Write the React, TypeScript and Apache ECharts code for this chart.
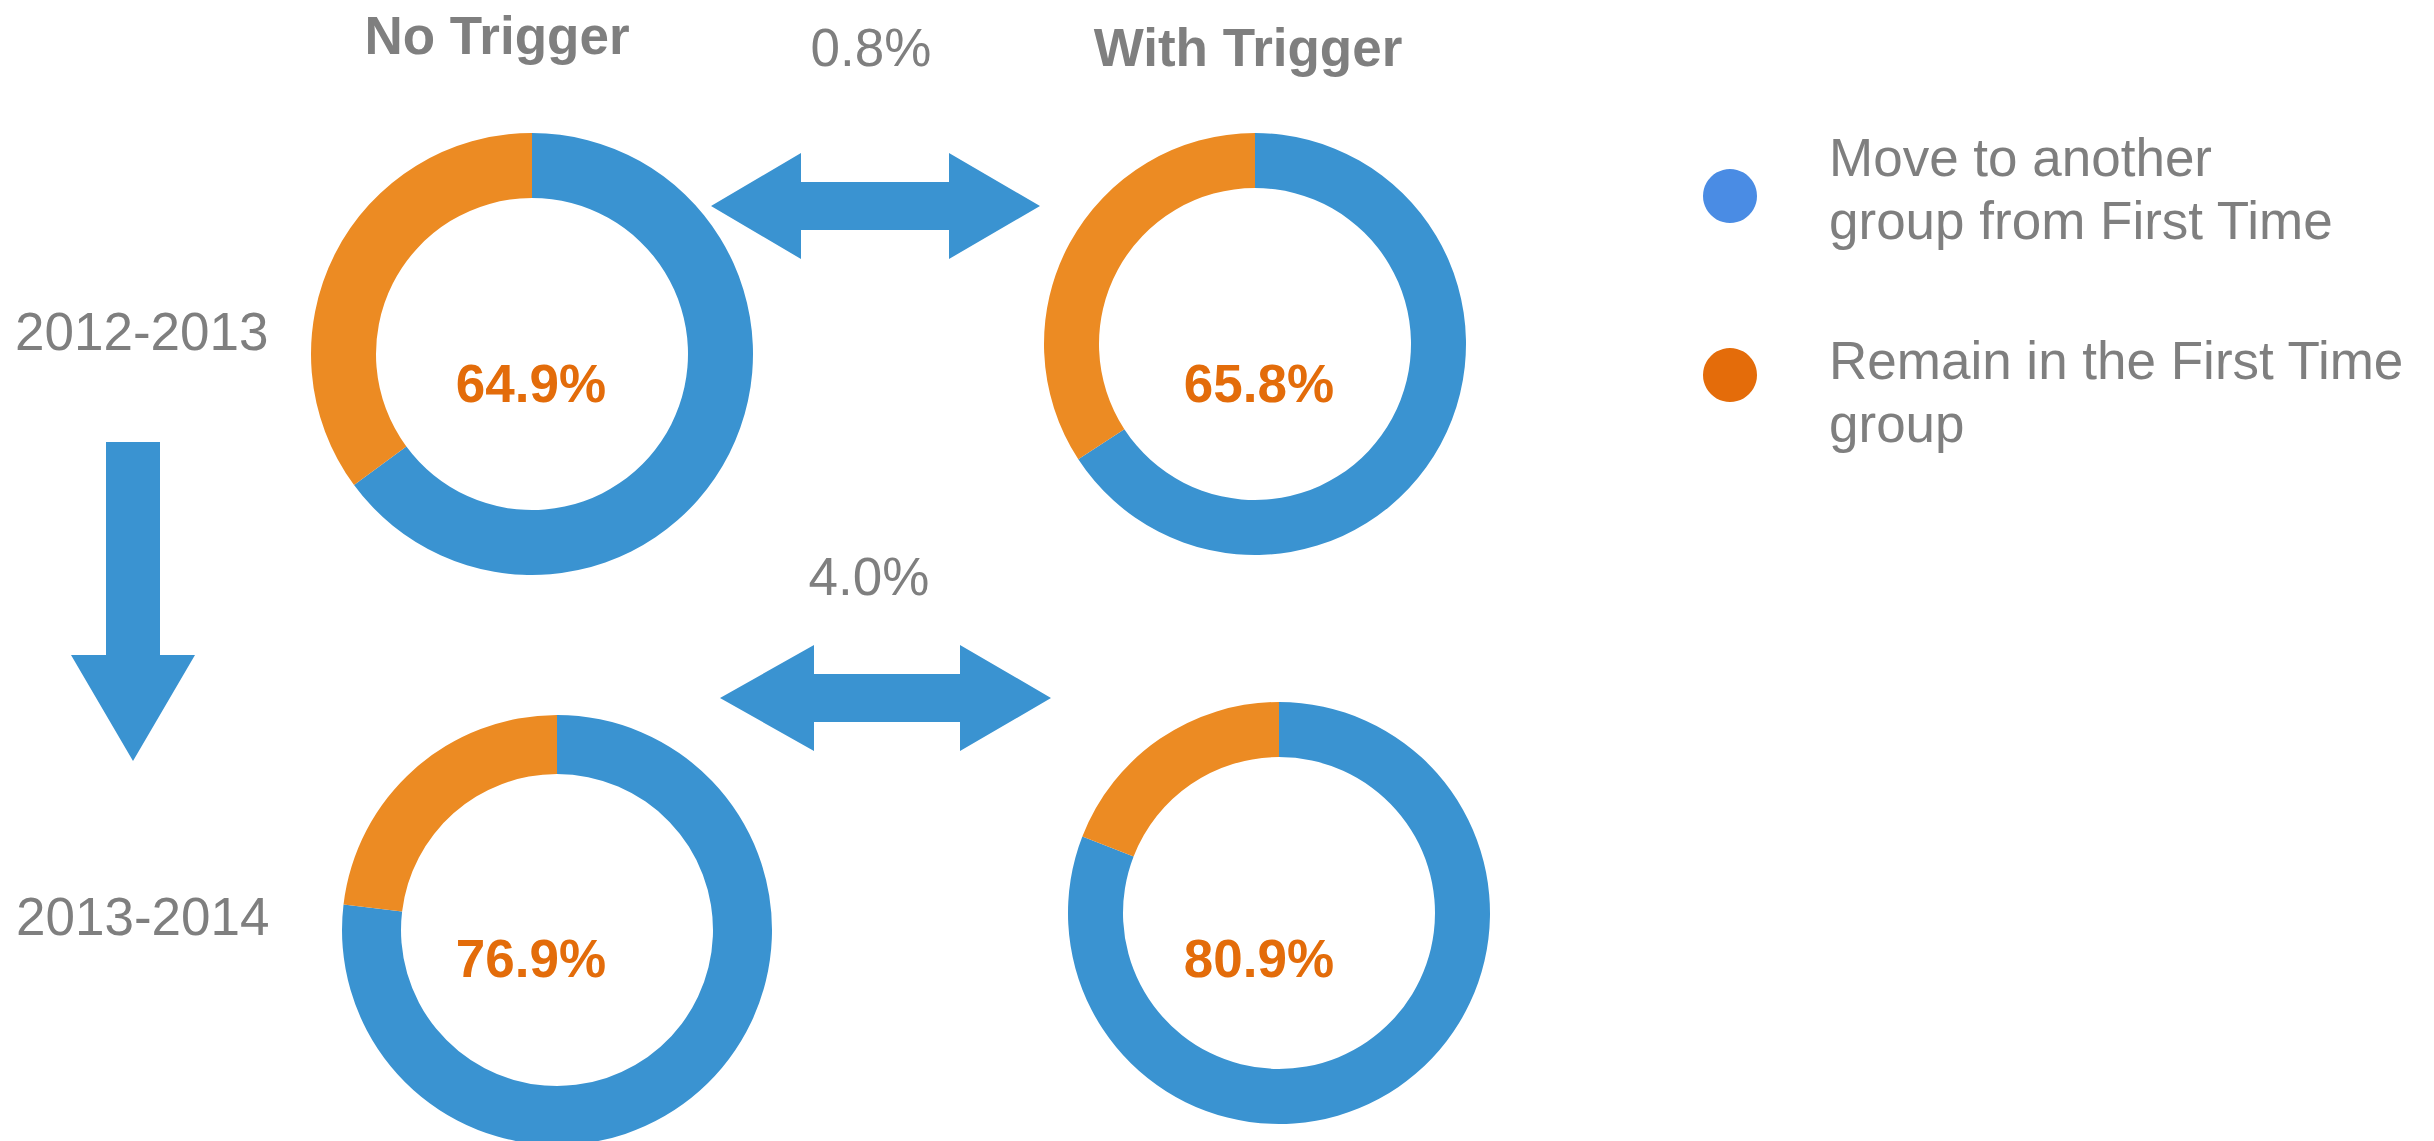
import React, { useEffect, useRef } from "react";
import * as echarts from "echarts";

// Share of first-time members who moved to another group, by period and trigger status
const periods = ["2012-2013", "2013-2014"];
const groups = ["No Trigger", "With Trigger"];
const moveShare = [
  [64.9, 65.8],
  [76.9, 80.9],
];
// Stated gap between the two trigger groups in each period
const gapLabels = ["0.8%", "4.0%"];
const sliceNames = ["Move to another group from First Time", "Remain in the First Time group"];
const legendLines = [
  ["Move to another", "group from First Time"],
  ["Remain in the First Time", "group"],
];

const BLUE = "#3a93d1";
const ORANGE = "#ec8b23";
const LABEL_ORANGE = "#e36c0a";
const LEGEND_BLUE = "#4a8ce4";
const LEGEND_ORANGE = "#e46c0a";
const GRAY = "#7f7f7f";
const FONT = "'Liberation Sans', Arial, sans-serif";
const FONT_SIZE = 53;

// ring layout: [period][group]
const ringCenters = [
  [[532, 354], [1255, 344]],
  [[557, 930], [1279, 913]],
];
const ringOuter = [
  [221, 211],
  [215, 211],
];
const ringInner = 156;
// where each ring's percentage sits
const valueAnchors = [
  [[531, 383], [1259, 383]],
  [[531, 958], [1259, 958]],
];

function text(str: string, x: number, y: number, opts: any = {}) {
  return {
    type: "text",
    x,
    y,
    silent: true,
    style: {
      text: str,
      fill: opts.fill || GRAY,
      font: `${opts.bold ? "bold " : ""}${FONT_SIZE}px ${FONT}`,
      textAlign: opts.align || "center",
      textVerticalAlign: "middle",
    },
  };
}

export default function App() {
  const ref = useRef<HTMLDivElement>(null);

  useEffect(() => {
    if (!ref.current) return;
    const chart = echarts.init(ref.current, undefined, { renderer: "svg" });

    const series: any[] = [];
    const graphics: any[] = [];

    periods.forEach((_, p) => {
      groups.forEach((g, gi) => {
        const v = moveShare[p][gi];
        const [cx, cy] = ringCenters[p][gi];
        series.push({
          type: "pie",
          name: `${periods[p]} ${g}`,
          center: [cx, cy],
          radius: [ringInner, ringOuter[p][gi]],
          startAngle: 90,
          clockwise: true,
          silent: true,
          label: { show: false },
          labelLine: { show: false },
          emphasis: { disabled: true },
          itemStyle: { borderWidth: 0 },
          data: [
            { name: sliceNames[0], value: v, itemStyle: { color: BLUE } },
            { name: sliceNames[1], value: +(100 - v).toFixed(1), itemStyle: { color: ORANGE } },
          ],
        });
        const [lx, ly] = valueAnchors[p][gi];
        graphics.push(text(`${v.toFixed(1)}%`, lx, ly, { bold: true, fill: LABEL_ORANGE }));
      });
    });

    // column headers
    graphics.push(text(groups[0], 497, 35, { bold: true }));
    graphics.push(text(groups[1], 1248, 47, { bold: true }));
    // gap labels
    graphics.push(text(gapLabels[0], 871, 47));
    graphics.push(text(gapLabels[1], 869, 576));
    // period labels
    graphics.push(text(periods[0], 15, 331, { align: "left" }));
    graphics.push(text(periods[1], 16, 916, { align: "left" }));

    // double-headed arrows between the trigger groups
    const dblArrow = (l: number, r: number, y: number, lb: number, rb: number) => ({
      type: "polygon",
      silent: true,
      shape: {
        points: [
          [l, y], [lb, y - 53], [lb, y - 24], [rb, y - 24], [rb, y - 53],
          [r, y], [rb, y + 53], [rb, y + 24], [lb, y + 24], [lb, y + 53],
        ],
      },
      style: { fill: BLUE },
    });
    graphics.push(dblArrow(711, 1040, 206, 801, 949));
    graphics.push(dblArrow(720, 1051, 698, 814, 960));

    // downward arrow between the periods
    graphics.push({
      type: "polygon",
      silent: true,
      shape: {
        points: [[106, 442], [160, 442], [160, 655], [195, 655], [133, 761], [71, 655], [106, 655]],
      },
      style: { fill: BLUE },
    });

    // legend
    const dotColors = [LEGEND_BLUE, LEGEND_ORANGE];
    const dotY = [196, 375];
    const lineY = [[157, 220], [360, 423]];
    legendLines.forEach((lines, i) => {
      graphics.push({
        type: "circle",
        silent: true,
        shape: { cx: 1730, cy: dotY[i], r: 27 },
        style: { fill: dotColors[i] },
      });
      lines.forEach((ln, j) => graphics.push(text(ln, 1829, lineY[i][j], { align: "left" })));
    });

    chart.setOption({
      animation: false,
      backgroundColor: "#ffffff",
      series,
      graphic: graphics,
    });

    return () => chart.dispose();
  }, []);

  return (
    <div
      ref={ref}
      style={{ position: "fixed", left: 0, top: 0, width: 2434, height: 1141, background: "#fff" }}
    />
  );
}
